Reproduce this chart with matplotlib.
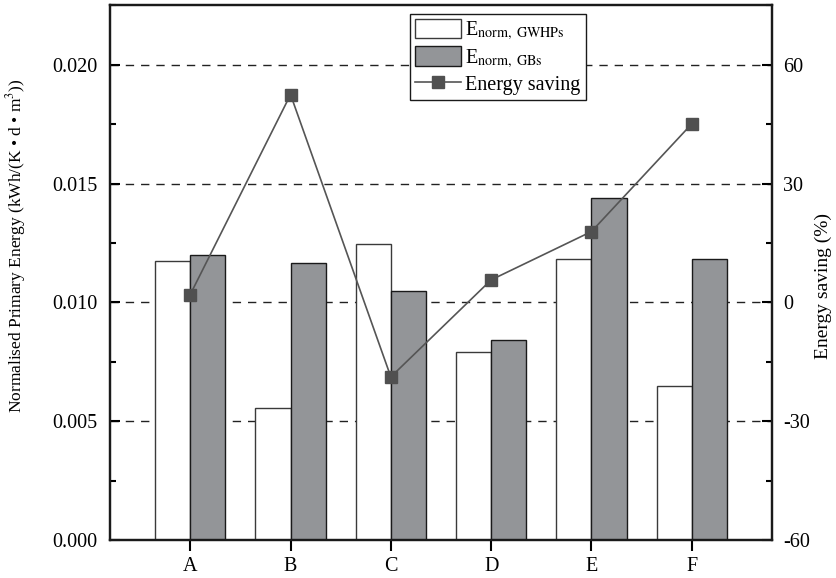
import matplotlib
matplotlib.use("Agg")
import matplotlib.pyplot as plt
import numpy as np
from matplotlib.ticker import MultipleLocator

plt.rcParams['font.family'] = ['Liberation Serif', 'DejaVu Serif']
plt.rcParams['mathtext.fontset'] = 'stix'
plt.rcParams['axes.unicode_minus'] = False

# data
cases = ['A', 'B', 'C', 'D', 'E', 'F']
e_gwhp = [0.01175, 0.00556, 0.01245, 0.00792, 0.01182, 0.00650]
e_gb = [0.01199, 0.01168, 0.01047, 0.00841, 0.01439, 0.01184]
saving = [2.0, 52.5, -18.8, 5.7, 17.9, 45.1]

x = np.arange(1, len(cases) + 1)
w = 0.35

fig = plt.figure(figsize=(8.36, 5.78), dpi=100)
ax1 = fig.add_subplot(1, 1, 1)
plt.subplots_adjust(left=0.1316, right=0.9234, bottom=0.0657, top=0.9905)

b1 = ax1.bar(x - w / 2, e_gwhp, w, color='white', edgecolor='#3a3a3a', linewidth=1.0)
b2 = ax1.bar(x + w / 2, e_gb, w, color='#939598', edgecolor='#1a1a1a', linewidth=1.0)

ax1.set_xlim(0.2, 6.8)
ax1.set_ylim(0, 0.0225)
ax1.set_xticks(x)
ax1.set_xticklabels(cases)
ax1.yaxis.set_major_locator(MultipleLocator(0.005))
ax1.yaxis.set_minor_locator(MultipleLocator(0.0025))
ax1.yaxis.set_major_formatter(matplotlib.ticker.FormatStrFormatter('%.3f'))
ax1.set_axisbelow(True)
ax1.grid(axis='y', which='major', color='#222222', linestyle=(0, (6, 5)), linewidth=1.0)
ax1.set_ylabel('Normalised Primary Energy (kWh/(K • d • m$^3$))', fontsize=12.5)
ax1.yaxis.set_label_coords(-0.124, 0.55)

ax1.tick_params(axis='x', direction='out', length=8, width=1.5, labelsize=14.5, pad=4)
ax1.tick_params(axis='y', which='major', direction='in', length=7, width=1.5,
                labelsize=14.5, pad=9)
ax1.tick_params(axis='y', which='minor', direction='in', length=4, width=1.5)

ax2 = ax1.twinx()
ln, = ax2.plot(x, saving, color='#555555', linewidth=1.2, marker='s', markersize=9,
               markerfacecolor='#505050', markeredgecolor='#505050')
ax2.set_ylim(-60, 75)
ax2.yaxis.set_major_locator(MultipleLocator(30))
ax2.yaxis.set_minor_locator(MultipleLocator(15))
ax2.set_ylabel('Energy saving (%)', fontsize=14)
ax2.yaxis.set_label_coords(1.064, 0.475)
ax2.tick_params(axis='y', which='major', direction='in', length=7, width=1.5,
                labelsize=14.5, pad=8)
ax2.tick_params(axis='y', which='minor', direction='in', length=4, width=1.5)

for ax in (ax1, ax2):
    for s in ax.spines.values():
        s.set_linewidth(1.6)
        s.set_color('#1a1a1a')

labels = [r'E$_{\mathrm{norm,\ GWHPs}}$', r'E$_{\mathrm{norm,\ GBs}}$', 'Energy saving']
leg = ax2.legend([b1, b2, ln], labels,
                 loc='upper left', bbox_to_anchor=(0.453, 0.984), fontsize=14.5,
                 fancybox=False, framealpha=1, edgecolor='#1a1a1a',
                 handlelength=2.3, handleheight=1.1, borderpad=0.25,
                 labelspacing=0.2, handletextpad=0.2, borderaxespad=0)
leg.get_frame().set_linewidth(1.0)

fig.savefig('out.png', dpi=100)
